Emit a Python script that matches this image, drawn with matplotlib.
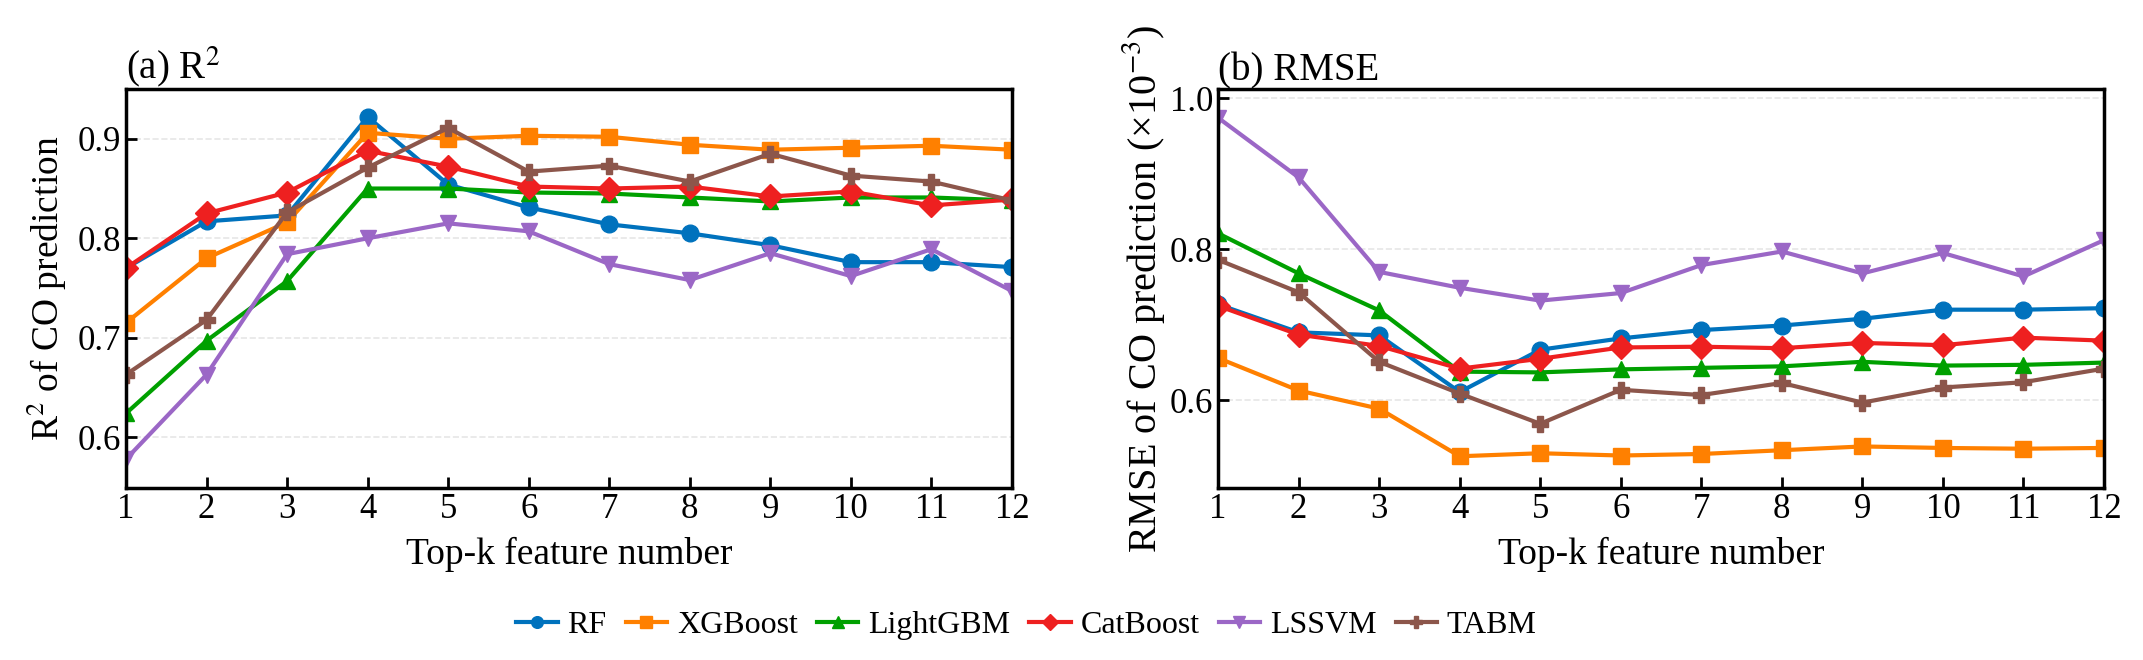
import numpy as np
import matplotlib
matplotlib.use("Agg")
import matplotlib.pyplot as plt

plt.rcParams['font.family'] = ['Liberation Serif', 'DejaVu Serif']
plt.rcParams['mathtext.fontset'] = 'stix'

k = np.arange(1, 13)
models = ['RF', 'XGBoost', 'LightGBM', 'CatBoost', 'LSSVM', 'TABM']
colors = ['#0072BD', '#FF8000', '#00A000', '#EE2020', '#9B67C6', '#8C564B']
markers = ['o', 's', '^', 'D', 'v', 'P']

r2_rf = [0.770, 0.817, 0.823, 0.922, 0.854, 0.831, 0.814, 0.805, 0.793, 0.776, 0.776, 0.771]
r2_xgb = [0.715, 0.780, 0.816, 0.906, 0.900, 0.903, 0.902, 0.894, 0.889, 0.891, 0.893, 0.889]
r2_lgbm = [0.624, 0.697, 0.757, 0.850, 0.850, 0.846, 0.845, 0.841, 0.837, 0.841, 0.841, 0.838]
r2_cat = [0.770, 0.825, 0.846, 0.888, 0.872, 0.852, 0.850, 0.852, 0.842, 0.847, 0.833, 0.839]
r2_lssvm = [0.578, 0.663, 0.784, 0.800, 0.815, 0.807, 0.774, 0.758, 0.785, 0.762, 0.789, 0.747]
r2_tabm = [0.663, 0.718, 0.826, 0.871, 0.911, 0.867, 0.873, 0.857, 0.885, 0.863, 0.857, 0.838]

rmse_rf = [0.727, 0.690, 0.686, 0.611, 0.667, 0.682, 0.693, 0.699, 0.708, 0.720, 0.720, 0.722]
rmse_xgb = [0.656, 0.613, 0.589, 0.526, 0.530, 0.527, 0.529, 0.534, 0.539, 0.537, 0.536, 0.537]
rmse_lgbm = [0.821, 0.768, 0.719, 0.638, 0.637, 0.641, 0.643, 0.645, 0.651, 0.646, 0.647, 0.650]
rmse_cat = [0.725, 0.687, 0.672, 0.642, 0.655, 0.670, 0.671, 0.669, 0.676, 0.673, 0.683, 0.679]
rmse_lssvm = [0.974, 0.895, 0.770, 0.749, 0.732, 0.742, 0.779, 0.797, 0.768, 0.795, 0.764, 0.812]
rmse_tabm = [0.786, 0.743, 0.651, 0.609, 0.569, 0.614, 0.607, 0.623, 0.597, 0.617, 0.624, 0.642]

r2_all = [r2_rf, r2_xgb, r2_lgbm, r2_cat, r2_lssvm, r2_tabm]
rmse_all = [rmse_rf, rmse_xgb, rmse_lgbm, rmse_cat, rmse_lssvm, rmse_tabm]

fig = plt.figure(figsize=(21.43, 6.6), dpi=100)
ax1 = fig.add_axes([0.0588, 0.2606, 0.4134, 0.6045])
ax2 = fig.add_axes([0.5684, 0.2606, 0.4134, 0.6045])

for i in range(len(models)):
    ax1.plot(k, r2_all[i], color=colors[i], marker=markers[i], lw=3, ms=12, label=models[i])
    ax2.plot(k, rmse_all[i], color=colors[i], marker=markers[i], lw=3, ms=12, label=models[i])

ax1.set_ylim(0.549, 0.950)
ax1.set_yticks([0.6, 0.7, 0.8, 0.9])
ax2.set_ylim(0.484, 1.012)
ax2.set_yticks([0.6, 0.8, 1.0])
ax2.set_yticklabels(['0.6', '0.8', '1.0'])

for ax in (ax1, ax2):
    ax.set_xlim(1, 12)
    ax.set_xticks(k)
    ax.tick_params(direction='in', labelsize=25, length=8, width=2)
    ax.grid(axis='y', ls='--', color='#e6e6e6', lw=1.2)
    ax.set_axisbelow(True)
    for s in ax.spines.values():
        s.set_linewidth(2.5)
    ax.set_xlabel('Top-k feature number', fontsize=27, labelpad=8)

ax1.set_ylabel('R$^2$ of CO prediction', fontsize=27, labelpad=6)
ax2.set_ylabel('RMSE of CO prediction (×10$^{-3}$)', fontsize=29, labelpad=2)
ax1.set_title('(a) R$^2$', loc='left', fontsize=28, pad=6)
ax2.set_title('(b) RMSE', loc='left', fontsize=28, pad=6)

h, l = ax1.get_legend_handles_labels()
fig.legend(h, l, loc='center', bbox_to_anchor=(0.479, 0.052), ncol=6, frameon=False,
           fontsize=23, handlelength=1.3, columnspacing=0.6, handletextpad=0.3, markerscale=0.7)

plt.savefig('out.png', dpi=100)
